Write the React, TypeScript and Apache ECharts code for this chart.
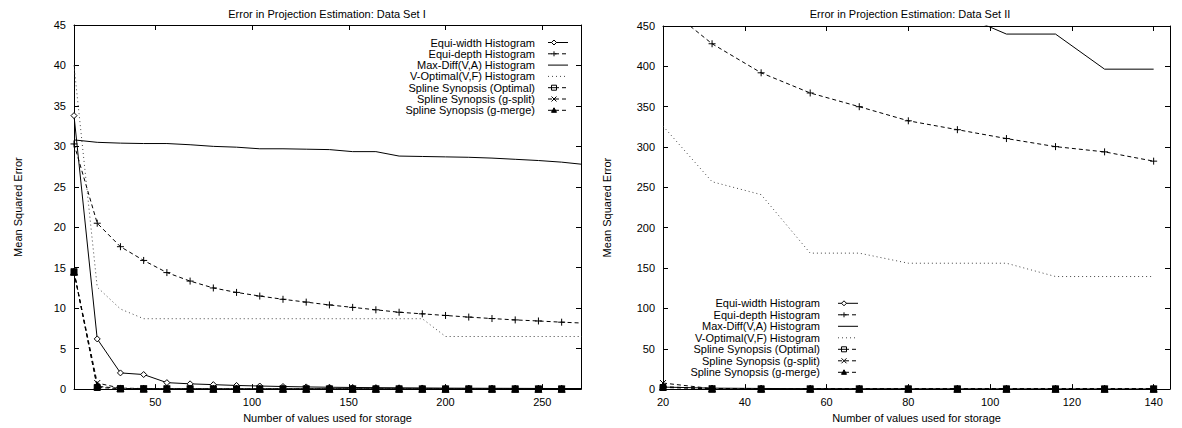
import React, { useEffect, useRef } from "react";
import * as echarts from "echarts";

const FONT = "'Liberation Sans', Arial, Helvetica, sans-serif";

const seriesNames = [
  "Equi-width Histogram",
  "Equi-depth Histogram",
  "Max-Diff(V,A) Histogram",
  "V-Optimal(V,F) Histogram",
  "Spline Synopsis (Optimal)",
  "Spline Synopsis (g-split)",
  "Spline Synopsis (g-merge)",
];

const titleLeft = "Error in Projection Estimation: Data Set I";
const titleRight = "Error in Projection Estimation: Data Set II";
const xName = "Number of values used for storage";
const yName = "Mean Squared Error";

// Data Set I
const xLeft = [8, 20, 32, 44, 56, 68, 80, 92, 104, 116, 128, 140, 152, 164, 176, 188, 200, 212, 224, 236, 248, 260, 272];
const leftEquiWidth = [33.8, 6.2, 2.0, 1.8, 0.8, 0.65, 0.55, 0.45, 0.38, 0.32, 0.27, 0.23, 0.2, 0.18, 0.16, 0.14, 0.12, 0.11, 0.1, 0.09, 0.08, 0.07, 0.07];
const leftEquiDepth = [30.3, 20.5, 17.6, 15.9, 14.4, 13.35, 12.5, 11.95, 11.5, 11.1, 10.75, 10.4, 10.1, 9.8, 9.5, 9.3, 9.1, 8.9, 8.72, 8.55, 8.42, 8.27, 8.15];
const leftMaxDiff = [30.8, 30.5, 30.4, 30.35, 30.35, 30.2, 30.0, 29.9, 29.7, 29.7, 29.65, 29.6, 29.35, 29.35, 28.8, 28.75, 28.7, 28.65, 28.55, 28.4, 28.25, 28.05, 27.75];
const leftVOptimal = [40, 12.6, 9.9, 8.7, 8.7, 8.7, 8.7, 8.7, 8.7, 8.7, 8.7, 8.7, 8.7, 8.7, 8.7, 8.7, 6.5, 6.5, 6.5, 6.5, 6.5, 6.5, 6.5];
const leftSplineOpt = [14.5, 0.2, 0.06, 0.05, 0.04, 0.04, 0.03, 0.03, 0.03, 0.03, 0.03, 0.03, 0.03, 0.03, 0.03, 0.03, 0.03, 0.03, 0.03, 0.03, 0.03, 0.03, 0.03];
const leftSplineSplit = [14.5, 0.75, 0.12, 0.07, 0.05, 0.05, 0.04, 0.04, 0.04, 0.04, 0.04, 0.04, 0.04, 0.04, 0.04, 0.04, 0.04, 0.04, 0.04, 0.04, 0.04, 0.04, 0.04];
const leftSplineMerge = [14.5, 0.35, 0.08, 0.05, 0.04, 0.04, 0.03, 0.03, 0.03, 0.03, 0.03, 0.03, 0.03, 0.03, 0.03, 0.03, 0.03, 0.03, 0.03, 0.03, 0.03, 0.03, 0.03];

// Data Set II
const xRight = [20, 32, 44, 56, 68, 80, 92, 104, 116, 128, 140];
const rightEquiWidth = [2.5, 1.2, 0.8, 0.6, 0.5, 0.4, 0.35, 0.3, 0.25, 0.2, 0.2];
const rightEquiDepth = [477, 428, 392, 367, 350, 332.5, 321.5, 310.5, 300.5, 294, 282.5];
const rightMaxDiff = [640, 600, 560, 530, 505, 485, 466, 440, 440, 396.5, 396.5];
const rightVOptimal = [326, 257, 241, 168.5, 168.5, 156, 156, 156, 139.5, 139.5, 139.5];
const rightSplineOpt = [2, 0.4, 0.3, 0.3, 0.3, 0.3, 0.3, 0.3, 0.3, 0.3, 0.3];
const rightSplineSplit = [7.5, 0.6, 0.4, 0.4, 0.4, 0.4, 0.4, 0.4, 0.4, 0.4, 0.4];
const rightSplineMerge = [3, 0.5, 0.35, 0.35, 0.35, 0.35, 0.35, 0.35, 0.35, 0.35, 0.35];

const leftXTicks = [50, 100, 150, 200, 250];
const rightXTicks = [20, 40, 60, 80, 100, 120, 140];

const PLUS = "path://M5,0L5,10M0,5L10,5";
const CROSS = "path://M0,0L10,10M10,0L0,10";

type Kind = { symbol: string; size: number; fill: string; dash: any; color: string; showSymbol: boolean };
const kinds: Kind[] = [
  { symbol: "diamond", size: 6, fill: "#fff", dash: "solid", color: "#000", showSymbol: true },
  { symbol: PLUS, size: 7, fill: "none", dash: [4, 3], color: "#000", showSymbol: true },
  { symbol: "none", size: 0, fill: "#000", dash: "solid", color: "#000", showSymbol: false },
  { symbol: "none", size: 0, fill: "#000", dash: [1, 3], color: "#444", showSymbol: false },
  { symbol: "rect", size: 6, fill: "#000", dash: [4, 3], color: "#000", showSymbol: true },
  { symbol: CROSS, size: 6, fill: "none", dash: [4, 3], color: "#000", showSymbol: true },
  { symbol: "triangle", size: 7, fill: "#000", dash: [4, 3], color: "#000", showSymbol: true },
];

function makeSeries(xs: number[], ys: number[][], axisIdx: number) {
  return ys.map((vals, i) => {
    const k = kinds[i];
    return {
      name: seriesNames[i],
      type: "line",
      xAxisIndex: axisIdx,
      yAxisIndex: axisIdx,
      data: xs.map((x, j) => [x, vals[j]]),
      clip: true,
      symbol: k.symbol,
      symbolSize: k.size,
      showSymbol: k.showSymbol,
      color: k.color,
      lineStyle: { color: k.color, width: 1, type: k.dash },
      itemStyle: { color: k.fill, borderColor: "#000", borderWidth: 1 },
      emphasis: { disabled: true },
      z: 3 + i,
    };
  });
}

function legendElems(textRight: number, top: number, step: number, s0: number, s1: number, mk: number) {
  const els: any[] = [];
  seriesNames.forEach((name, i) => {
    const cy = top + i * step;
    const k = kinds[i];
    els.push({
      type: "text",
      x: textRight,
      y: cy,
      style: { text: name, font: `11px ${FONT}`, fill: "#000", textAlign: "right", textVerticalAlign: "middle" },
      z: 100,
    });
    els.push({
      type: "line",
      shape: { x1: s0, y1: cy, x2: s1, y2: cy },
      style: { stroke: k.color, lineWidth: 1, lineDash: Array.isArray(k.dash) ? k.dash : null },
      z: 100,
    });
    const st = { stroke: "#000", lineWidth: 1 };
    const r = 2.5;
    if (i === 0) {
      els.push({ type: "polygon", shape: { points: [[mk, cy - r], [mk + r, cy], [mk, cy + r], [mk - r, cy]] }, style: { ...st, fill: "#fff" }, z: 101 });
    } else if (i === 1) {
      els.push({ type: "line", shape: { x1: mk - r, y1: cy, x2: mk + r, y2: cy }, style: st, z: 101 });
      els.push({ type: "line", shape: { x1: mk, y1: cy - r, x2: mk, y2: cy + r }, style: st, z: 101 });
    } else if (i === 4) {
      els.push({ type: "rect", shape: { x: mk - r, y: cy - r, width: 2 * r, height: 2 * r }, style: { ...st, fill: "#fff" }, z: 101 });
      els.push({ type: "line", shape: { x1: mk - r, y1: cy, x2: mk + r, y2: cy }, style: st, z: 102 });
    } else if (i === 5) {
      els.push({ type: "line", shape: { x1: mk - r, y1: cy - r, x2: mk + r, y2: cy + r }, style: st, z: 101 });
      els.push({ type: "line", shape: { x1: mk + r, y1: cy - r, x2: mk - r, y2: cy + r }, style: st, z: 101 });
    } else if (i === 6) {
      els.push({ type: "polygon", shape: { points: [[mk, cy - r], [mk + r, cy + r - 0.5], [mk - r, cy + r - 0.5]] }, style: { ...st, fill: "#000" }, z: 101 });
    }
  });
  return els;
}

const axisLineStyle = { color: "#000", width: 1 };
const labelStyle = { color: "#000", fontSize: 11, fontFamily: FONT };

function xAxes(grid: number, min: number, max: number, ticks: number[]) {
  return [
    {
      gridIndex: grid,
      type: "value",
      min,
      max,
      position: "bottom",
      axisLine: { onZero: false, lineStyle: axisLineStyle },
      axisTick: { inside: true, length: 5, customValues: ticks, lineStyle: axisLineStyle },
      axisLabel: { ...labelStyle, margin: 7, customValues: ticks },
      splitLine: { show: false },
      name: xName,
      nameLocation: "middle",
      nameGap: 17,
      nameTextStyle: labelStyle,
    },
    {
      gridIndex: grid,
      type: "value",
      min,
      max,
      position: "top",
      axisLine: { onZero: false, lineStyle: axisLineStyle },
      axisTick: { inside: true, length: 5, customValues: ticks, lineStyle: axisLineStyle },
      axisLabel: { show: false },
      splitLine: { show: false },
    },
  ];
}

function yAxes(grid: number, max: number, interval: number) {
  return [
    {
      gridIndex: grid,
      type: "value",
      min: 0,
      max,
      interval,
      position: "left",
      axisLine: { show: true, onZero: false, lineStyle: axisLineStyle },
      axisTick: { show: true, inside: true, length: 5, lineStyle: axisLineStyle },
      axisLabel: { ...labelStyle, margin: 8 },
      splitLine: { show: false },
      name: yName,
      nameLocation: "middle",
      nameRotate: 90,
      nameGap: 51,
      nameTextStyle: labelStyle,
    },
    {
      gridIndex: grid,
      type: "value",
      min: 0,
      max,
      interval,
      position: "right",
      axisLine: { show: true, onZero: false, lineStyle: axisLineStyle },
      axisTick: { show: true, inside: true, length: 5, lineStyle: axisLineStyle },
      axisLabel: { show: false },
      splitLine: { show: false },
    },
  ];
}

export default function App() {
  const ref = useRef<HTMLDivElement>(null);
  useEffect(() => {
    if (!ref.current) return;
    const chart = echarts.init(ref.current, undefined, { renderer: "svg" });
    const xa = [...xAxes(0, 8, 270, leftXTicks), ...xAxes(1, 20, 144, rightXTicks)];
    const ya = [...yAxes(0, 45, 5), ...yAxes(1, 450, 50)];
    const leftSeries = makeSeries(xLeft, [leftEquiWidth, leftEquiDepth, leftMaxDiff, leftVOptimal, leftSplineOpt, leftSplineSplit, leftSplineMerge], 0);
    const rightSeries = makeSeries(xRight, [rightEquiWidth, rightEquiDepth, rightMaxDiff, rightVOptimal, rightSplineOpt, rightSplineSplit, rightSplineMerge], 2);
    chart.setOption({
      animation: false,
      backgroundColor: "#fff",
      textStyle: { fontFamily: FONT },
      grid: [
        { left: 74, top: 25, width: 507, height: 370 },
        { left: 663, top: 26, width: 507, height: 370 },
      ],
      xAxis: xa,
      yAxis: ya,
      series: [...leftSeries, ...rightSeries],
      graphic: [
        { type: "text", x: 327, y: 14, style: { text: titleLeft, font: `11px ${FONT}`, fill: "#000", textAlign: "center", textVerticalAlign: "middle" } },
        { type: "text", x: 910, y: 14, style: { text: titleRight, font: `11px ${FONT}`, fill: "#000", textAlign: "center", textVerticalAlign: "middle" } },
        ...legendElems(535, 42.5, 11.3, 548, 568, 554),
        ...legendElems(820, 303.3, 11.5, 838, 858, 844),
      ],
    });
    return () => chart.dispose();
  }, []);
  return <div ref={ref} style={{ position: "fixed", left: 0, top: 0, width: 1182, height: 428 }} />;
}
